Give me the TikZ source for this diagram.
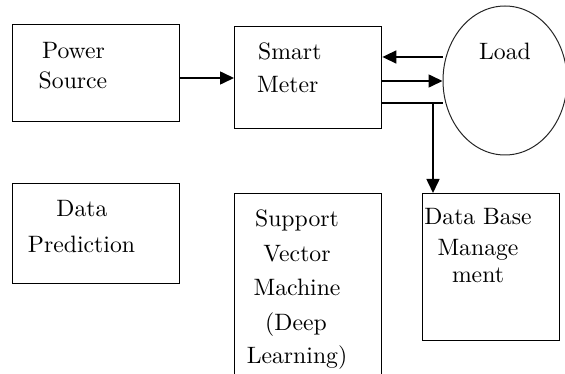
\documentclass[tikz,border=0pt]{standalone}
\usepackage{fontspec}
\newfontfamily\tnr{lmroman10-regular}[Extension=.otf]
\usetikzlibrary{arrows.meta,shapes.geometric}
\begin{document}
\begin{tikzpicture}[x=1pt,y=-1pt,
  box/.style={draw=black, line width=1.4pt, inner sep=0pt, anchor=north west},
  lbl/.style={font=\tnr\fontsize{23.7}{28}\selectfont, inner sep=0pt, anchor=base},
  conn/.style={line width=1.6pt, -{Triangle[length=14pt,width=13pt]}},
  plainline/.style={line width=1.6pt}]
\useasboundingbox (0,0) rectangle (565,374);
\clip (0,0) rectangle (565,374);
% boxes
\node[box, minimum width=167pt, minimum height=97pt] (ps) at (12,24) {};
\node[box, minimum width=147pt, minimum height=102pt] (sm) at (234,26) {};
\node[draw=black!85, line width=1pt, ellipse, inner sep=0pt, minimum width=124pt, minimum height=149pt] (ld) at (505,80.5) {};
\node[box, minimum width=167pt, minimum height=100pt] (dp) at (12,183) {};
\node[box, minimum width=147pt, minimum height=190pt] (svm) at (234,193) {};
\node[box, minimum width=137pt, minimum height=147pt] (db) at (422,193) {};
% texts
\node[lbl] (t1) at (73.5,59) {Power};
\node[lbl] (t2) at (73,89) {Source};
\node[lbl, anchor=base west] (t3) at (258,60) {Smart};
\node[lbl, anchor=base west] (t4) at (257,93) {Meter};
\node[lbl] (t5) at (505,60) {Load};
\node[lbl] (t6) at (82,217) {Data};
\node[lbl] (t7) at (81.5,252) {Prediction};
\node[lbl] (t8) at (297,227) {Support};
\node[lbl] (t9) at (297,261.5) {Vector};
\node[lbl] (t10) at (297,295.5) {Machine};
\node[lbl] (t11) at (296,330) {(Deep};
\node[lbl] (t12) at (297,363.5) {Learning)};
\node[lbl] (t13) at (478,225) {Data Base};
\node[lbl] (t14) at (478,255.5) {Manage};
\node[lbl] (t15) at (478,283) {ment};
% connectors
\coordinate (ya) at (0,78);
\coordinate (y1) at (0,57);
\coordinate (y2) at (0,81);
\coordinate (y3) at (0,103);
\coordinate (j) at (433,103);
\draw[conn] (ps.east |- ya) -- (sm.west |- ya);
\draw[conn] (ld.west |- y1) -- (sm.east |- y1);
\draw[conn] (sm.east |- y2) -- (ld.west |- y2);
\draw[plainline] (sm.east |- y3) -- (ld.west |- y3);
\draw[conn] (j) -- (j |- db.north);
\end{tikzpicture}
\end{document}
